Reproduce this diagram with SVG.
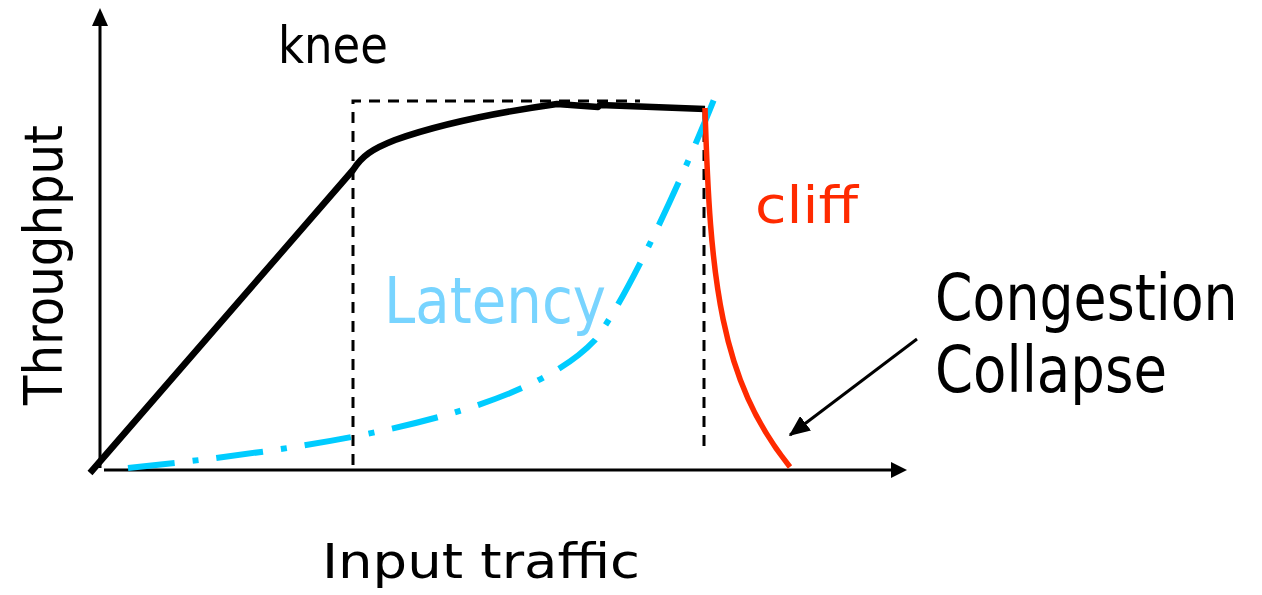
<svg xmlns="http://www.w3.org/2000/svg" width="1262" height="595" viewBox="0 0 1262 595">
  <style>
    .lbl { font-family: "DejaVu Sans", "Liberation Sans", sans-serif; }
    .axis { stroke: #000; stroke-width: 3; fill: none; }
    .guide { stroke: #000; stroke-width: 3; fill: none; stroke-dasharray: 11 8; }
    .thru { stroke: #000; stroke-width: 6.5; fill: none; stroke-linejoin: round; }
    .cliff { stroke: #ff2a00; stroke-width: 5.5; fill: none; }
    .lat { stroke: #00ccff; stroke-width: 6; fill: none; stroke-dasharray: 47 18 6 18; }
  </style>
  <defs>
    <marker id="head" markerWidth="7" markerHeight="6" refX="6.5" refY="3" orient="auto" markerUnits="strokeWidth">
      <path d="M0,0 L7,3 L0,6 Z" fill="#000"/>
    </marker>
  </defs>

  <!-- axes -->
  <g id="axes">
    <line class="axis" x1="100" y1="468" x2="100" y2="22"/>
    <polygon points="100,8 108,26 92,26" fill="#000"/>
    <line class="axis" x1="104" y1="470" x2="894" y2="470"/>
    <polygon points="907,470 891,462 891,478" fill="#000"/>
  </g>

  <!-- dashed guides at knee and cliff -->
  <g id="guides">
    <path class="guide" d="M353,465 L353,101 L640,101"/>
    <line class="guide" x1="704" y1="112" x2="704" y2="452"/>
  </g>

  <!-- curves -->
  <g id="curves">
    <path class="lat" d="M128,468 C300,450 520,420 595,340 C630,295 690,160 715,97"/>
    <path class="thru" d="M90,473 L353,170 C362,156 372,149 395,140 C440,124 500,112 557,104 L598,107 L600,105 L705,109"/>
    <path class="cliff" d="M705,108 C710,280 720,380 790,467"/>
  </g>

  <!-- annotation arrow -->
  <g id="connectors">
    <line x1="917" y1="339" x2="790" y2="435" stroke="#000" stroke-width="3" marker-end="url(#head)"/>
  </g>

  <!-- labels -->
  <g id="labels">
    <text class="lbl" x="278" y="63" font-size="52" textLength="110" lengthAdjust="spacingAndGlyphs" fill="#000">knee</text>
    <text class="lbl" x="755" y="223" font-size="52" textLength="103" lengthAdjust="spacingAndGlyphs" fill="#ff2a00">cliff</text>
    <text class="lbl" x="384" y="323" font-size="64" textLength="222" lengthAdjust="spacingAndGlyphs" fill="#78d4ff">Latency</text>
    <text class="lbl" transform="translate(935,320) scale(0.84,1)" font-size="64" fill="#000">Congestion</text>
    <text class="lbl" x="935" y="392" font-size="64" textLength="232" lengthAdjust="spacingAndGlyphs" fill="#000">Collapse</text>
    <text class="lbl" x="322" y="578" font-size="48" textLength="318" lengthAdjust="spacingAndGlyphs" fill="#000">Input traffic</text>
    <text class="lbl" transform="translate(62,405) rotate(-90)" font-size="54" textLength="280" lengthAdjust="spacingAndGlyphs" fill="#000">Throughput</text>
  </g>
</svg>
